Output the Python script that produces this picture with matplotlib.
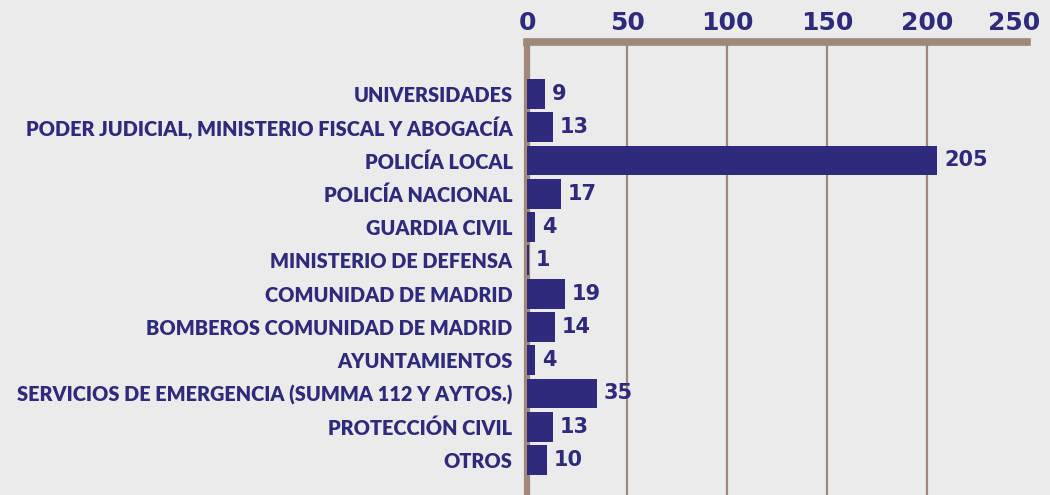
import matplotlib
matplotlib.use("Agg")
import matplotlib.pyplot as plt
from matplotlib.transforms import ScaledTranslation

categorias = [
    "UNIVERSIDADES",
    "PODER JUDICIAL, MINISTERIO FISCAL Y ABOGACÍA",
    "POLICÍA LOCAL",
    "POLICÍA NACIONAL",
    "GUARDIA CIVIL",
    "MINISTERIO DE DEFENSA",
    "COMUNIDAD DE MADRID",
    "BOMBEROS COMUNIDAD DE MADRID",
    "AYUNTAMIENTOS",
    "SERVICIOS DE EMERGENCIA (SUMMA 112 Y AYTOS.)",
    "PROTECCIÓN CIVIL",
    "OTROS",
]
valores = [9, 13, 205, 17, 4, 1, 19, 14, 4, 35, 13, 10]
ticks = [0, 50, 100, 150, 200, 250]

AZUL = "#2f2a7c"
GRIS = "#9d887a"
FONDO = "#ebebeb"
NUM = ["DejaVu Sans"]
plt.rcParams.update({"font.family": ["Lato", "DejaVu Sans"], "font.weight": "bold"})

fig = plt.figure(figsize=(10.5, 4.95), dpi=100, facecolor=FONDO)
ax = fig.add_axes([527 / 1050, 0, 500 / 1050, 1 - 42 / 495], facecolor=FONDO)

y = range(len(categorias))
ax.barh(y, valores, height=0.9, color=AZUL, zorder=3)
for i, v in enumerate(valores):
    ax.text(v + 3.5, i, str(v), va="center", ha="left", fontsize=15,
            fontweight="bold", family=NUM, color=AZUL)

ax.set_xlim(0, 250)
ax.set_ylim(12.05, -1.56)
ax.xaxis.tick_top()
ax.set_xticks(ticks)
ax.set_xticklabels([str(t) for t in ticks], fontsize=18, fontweight="bold",
                   family=NUM, color=AZUL)
ax.tick_params(axis="x", length=0, pad=5)
# el último rótulo se desplaza a la izquierda para no salirse del borde
ultimo = ax.xaxis.get_major_ticks()[-1].label2
ultimo.set_transform(ultimo.get_transform() + ScaledTranslation(-9 / 72, 0, fig.dpi_scale_trans))
ax.set_yticks(list(y))
ax.set_yticklabels(categorias, fontsize=14.3, fontweight="heavy", color=AZUL)
ax.tick_params(axis="y", length=0, pad=10.5)

for t in ticks[1:-1]:
    ax.axvline(t, color=GRIS, lw=1.6, zorder=1)

for s in ("right", "bottom"):
    ax.spines[s].set_visible(False)
ax.spines["top"].set_color(GRIS)
ax.spines["top"].set_linewidth(5.5)
ax.spines["left"].set_color(GRIS)
ax.spines["left"].set_linewidth(4.5)

fig.savefig("out.png", dpi=100, facecolor=FONDO)
